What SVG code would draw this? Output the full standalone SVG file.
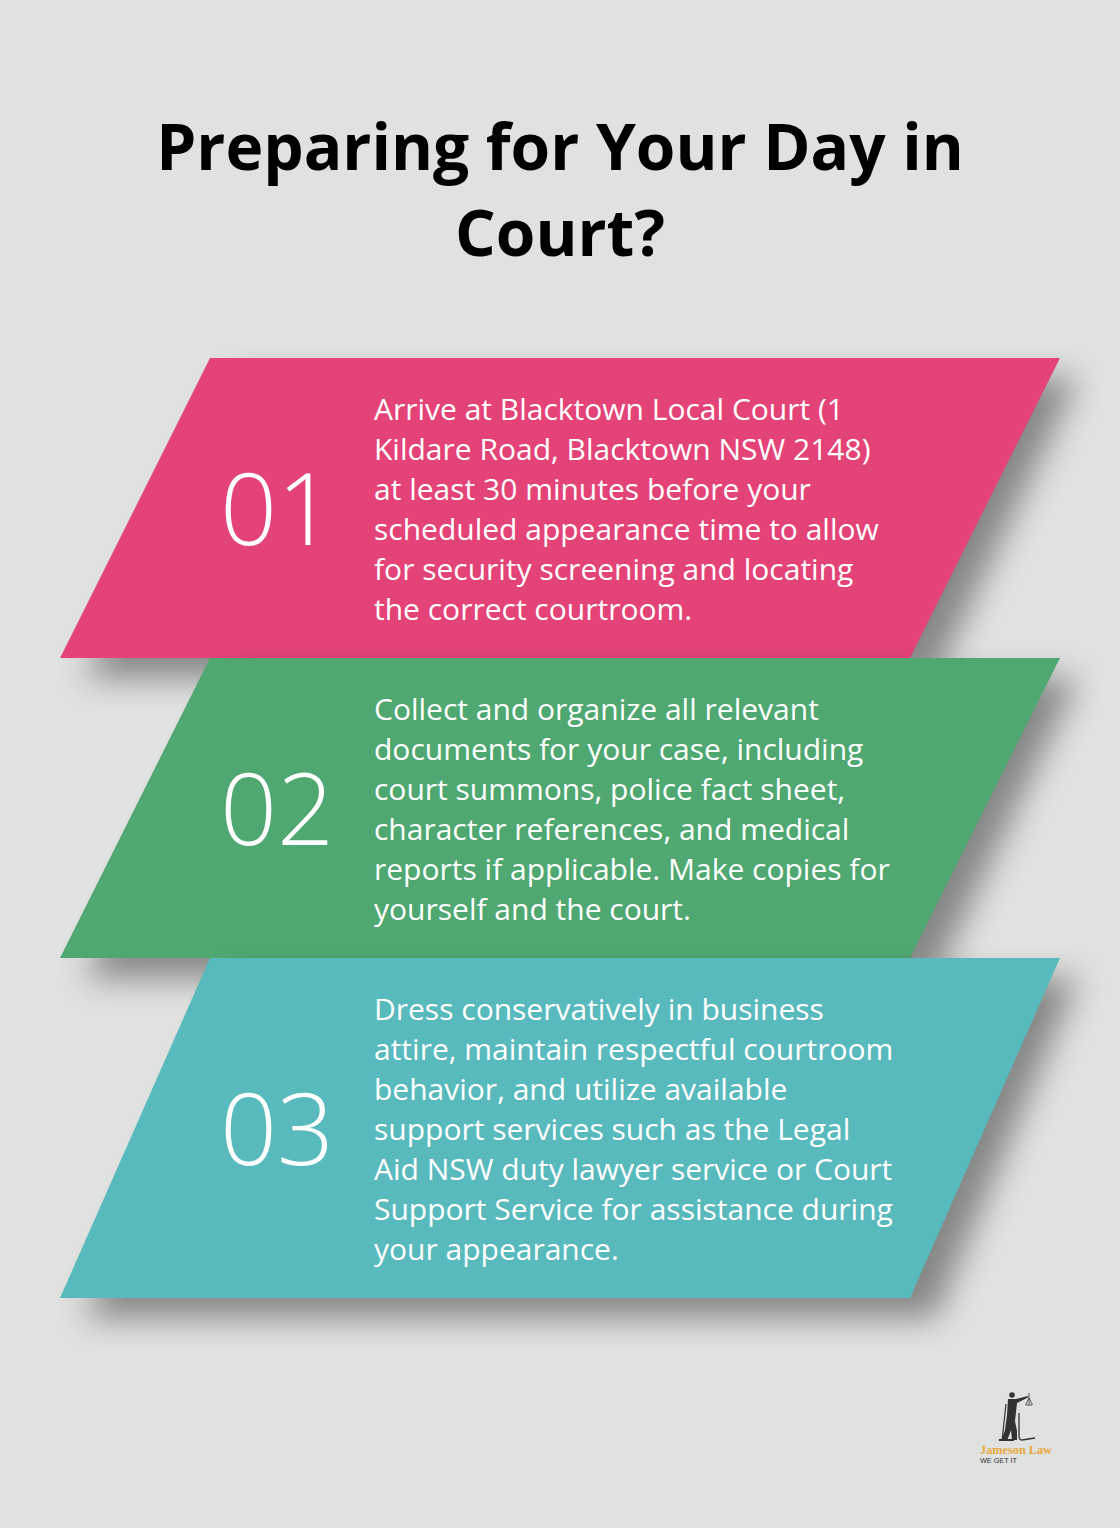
<svg xmlns="http://www.w3.org/2000/svg" width="1120" height="1528" viewBox="0 0 1120 1528">
<defs><filter id="sh" x="-20%" y="-30%" width="140%" height="160%"><feGaussianBlur stdDeviation="16"/></filter><filter id="soft" x="-10%" y="-10%" width="120%" height="120%"><feGaussianBlur stdDeviation="0.35"/></filter></defs>
<style>
.t{font-family:"Open Sans",sans-serif;font-size:30px;fill:#fff}
.n{font-family:"Open Sans",sans-serif;font-size:100px;fill:#fff;font-weight:300}
.h{font-family:"Open Sans",sans-serif;font-size:64px;font-weight:700;fill:#000;text-anchor:middle}
.s{fill:#000;opacity:.4;filter:url(#sh)}
</style>
<rect width="1120" height="1528" fill="#dfe2e0"/>
<g id="title"><text class="h" x="560" y="170">Preparing for Your Day in</text><text class="h" x="560" y="256">Court?</text></g>
<g id="step1"><polygon class="s" points="235,378 1078,378 935,678 85,678"/><polygon points="210,358 1060,358 910,658 60,658" fill="#e44377"/>
<text class="n" x="220" y="545">01</text>
<text class="t" x="374" y="420">Arrive at Blacktown Local Court (1</text><text class="t" x="374" y="460">Kildare Road, Blacktown NSW 2148)</text><text class="t" x="374" y="500">at least 30 minutes before your</text><text class="t" x="374" y="540">scheduled appearance time to allow</text><text class="t" x="374" y="580">for security screening and locating</text><text class="t" x="374" y="620">the correct courtroom.</text></g>
<g id="step2"><polygon class="s" points="235,678 1078,678 935,978 85,978"/><polygon points="210,658 1060,658 910,958 60,958" fill="#4fa871"/>
<text class="n" x="220" y="845">02</text>
<text class="t" x="374" y="720">Collect and organize all relevant</text><text class="t" x="374" y="760">documents for your case, including</text><text class="t" x="374" y="800">court summons, police fact sheet,</text><text class="t" x="374" y="840">character references, and medical</text><text class="t" x="374" y="880">reports if applicable. Make copies for</text><text class="t" x="374" y="920">yourself and the court.</text></g>
<g id="step3"><polygon class="s" points="235,978 1078,978 935,1318 85,1318"/><polygon points="210,958 1060,958 910,1298 60,1298" fill="#58babd"/>
<text class="n" x="220" y="1165">03</text>
<text class="t" x="374" y="1020">Dress conservatively in business</text><text class="t" x="374" y="1060">attire, maintain respectful courtroom</text><text class="t" x="374" y="1100">behavior, and utilize available</text><text class="t" x="374" y="1140">support services such as the Legal</text><text class="t" x="374" y="1180">Aid NSW duty lawyer service or Court</text><text class="t" x="374" y="1220">Support Service for assistance during</text><text class="t" x="374" y="1260">your appearance.</text></g>
<g id="logo">
<g filter="url(#soft)">
<circle cx="1012" cy="1395" r="2.800" fill="#333"/>
<path d="M1008 1399L1016 1399L1028 1396L1028 1397.500L1017 1403L1016 1412L1015 1421L1017 1431L1017 1440L1012 1440L1011 1430L1007 1441L1001 1441L1005 1430L1007 1415Z" fill="#333"/>
<path d="M1002 1441L1006 1404" stroke="#333" stroke-width="1.200" fill="none"/>
<path d="M1019 1413L1019 1436Q1019 1440 1022 1440L1035 1438" stroke="#333" stroke-width="1.300" fill="none"/>
<path d="M999 1440L1014 1440" stroke="#333" stroke-width="2" fill="none"/>
<path d="M1029 1393L1029 1405M1026 1405L1032 1405M1029 1398L1025.500 1405M1029 1398L1032.500 1405" stroke="#333" stroke-width=".8" fill="none"/>
</g>
<text x="980" y="1454" font-family="'Liberation Serif',serif" font-size="12" font-weight="700" fill="#e9a83e" textLength="72" lengthAdjust="spacingAndGlyphs">Jameson Law</text>
<text x="980" y="1463" font-family="'Liberation Sans',sans-serif" font-size="7" fill="#333" textLength="37" lengthAdjust="spacingAndGlyphs">WE GET IT</text>
</g>
</svg>
